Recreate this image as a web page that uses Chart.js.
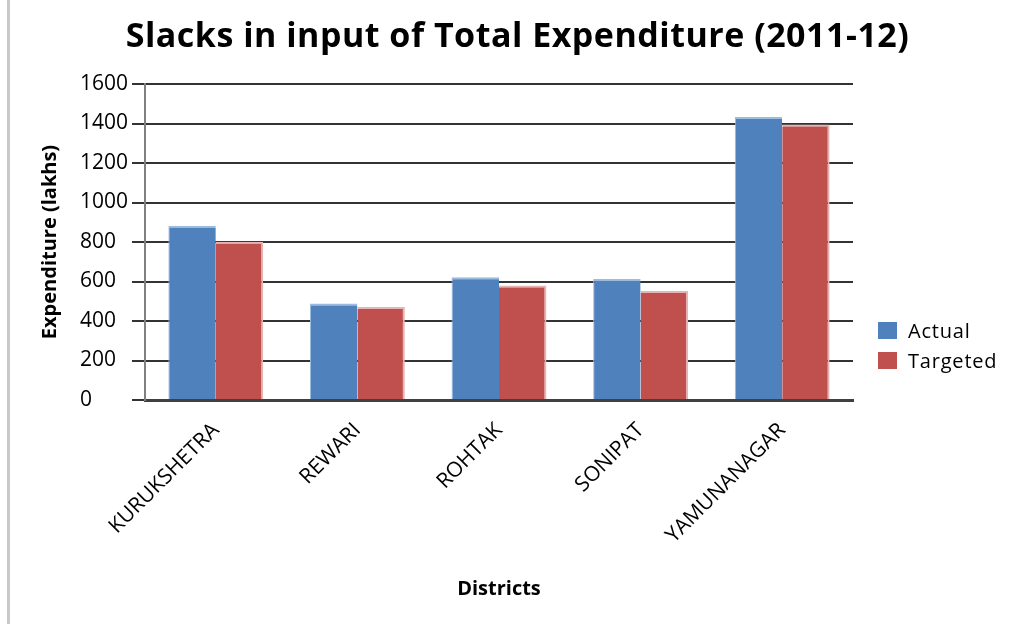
<!DOCTYPE html>
<html>
<head>
<meta charset="utf-8">
<script src="https://cdn.jsdelivr.net/npm/chart.js@4/dist/chart.umd.min.js"></script>
<style>
  html, body { margin: 0; padding: 0; background: #fff; }
  #wrap {
    position: relative; width: 1013px; height: 625px;
    font-family: "Open Sans", Lato, sans-serif; color: #000;
  }
  #edge { position: absolute; left: 7px; top: 0; width: 3px; height: 624px; background: #c8c8c8; }
  #title {
    position: absolute; left: 0; top: 11px; width: 1035px; text-align: center;
    font-size: 34px; font-weight: bold; letter-spacing: 0.5px;
  }
  #legend { position: absolute; left: 878px; top: 315px; font-size: 20px; letter-spacing: 0.8px; }
  #legend div { display: flex; align-items: center; height: 30px; }
  #legend span.sw { display: inline-block; width: 19px; height: 17px; margin-right: 11px; }
  canvas { position: absolute; left: 0; top: 0; }
</style>
</head>
<body>
<div id="wrap">
  <div id="edge"></div>
  <canvas id="chart" width="1013" height="625"></canvas>
  <div id="title">Slacks in input of Total Expenditure (2011-12)</div>
  <div id="legend"></div>
</div>
<script>
// expenditure per district, in lakhs
const districts = ['KURUKSHETRA', 'REWARI', 'ROHTAK', 'SONIPAT', 'YAMUNANAGAR'];
const actual    = [882, 488, 622, 613, 1433];
const targeted  = [801, 471, 580, 552, 1395];
const yTicks    = [0, 200, 400, 600, 800, 1000, 1200, 1400, 1600];

const series = [
  { label: 'Actual',   data: actual,   color: '#4f81bd', edge: '#9dbbe0', bw: { top: 2, left: 1, right: 0, bottom: 0 } },
  { label: 'Targeted', data: targeted, color: '#c0504d', edge: '#e6b4b3', bw: { top: 2, right: 2, left: 0, bottom: 0 } },
];

document.getElementById('legend').innerHTML = series.map(s =>
  `<div><span class="sw" style="background:${s.color}"></span>${s.label}</div>`).join('');

const font = '"Open Sans", Lato, sans-serif';

// y labels sit flush left: pad short numbers with figure spaces
const padNum = v => String(v).padEnd(4, '\u2007');

new Chart(document.getElementById('chart').getContext('2d'), {
  type: 'bar',
  data: {
    labels: districts,
    datasets: series.map(s => ({
      label: s.label, data: s.data,
      backgroundColor: s.color, borderColor: s.edge, borderWidth: s.bw,
      borderSkipped: false,
      categoryPercentage: 0.67, barPercentage: 1.0,
    })),
  },
  options: {
    responsive: false,
    animation: false,
    layout: { padding: { top: 84, right: 160, left: 0, bottom: 15 } },
    plugins: { legend: { display: false }, tooltip: { enabled: false } },
    scales: {
      x: {
        grid: { display: false },
        border: { color: '#404040', width: 3 },
        ticks: { color: '#000', font: { family: font, size: 21 }, minRotation: 45, maxRotation: 45, padding: 10 },
        title: { display: true, text: 'Districts', color: '#000', font: { family: font, size: 20, weight: 'bold' }, padding: { bottom: 9 } },
        afterFit: s => { s.height = 210; },
      },
      y: {
        min: 0, max: 1600,
        afterBuildTicks: s => { s.ticks = yTicks.map(v => ({ value: v })); },
        grid: { color: '#333', lineWidth: 2, tickLength: 13, tickColor: '#333' },
        border: { color: '#808080', width: 2 },
        ticks: { color: '#000', font: { family: font, size: 21 }, padding: 4, callback: padNum },
        title: { display: true, text: 'Expenditure (lakhs)', color: '#000', font: { family: font, size: 20, weight: 'bold' }, padding: { top: 38 } },
        afterFit: s => { s.width = 145; },
      },
    },
  },
});
</script>
</body>
</html>
